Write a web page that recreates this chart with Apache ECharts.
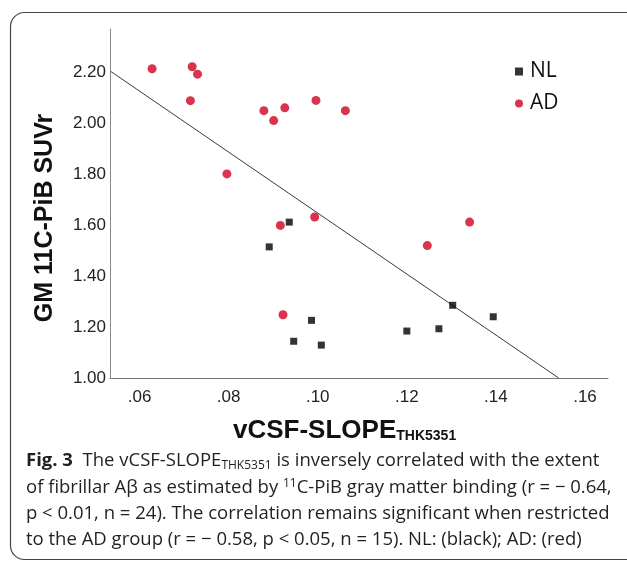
<!DOCTYPE html>
<html>
<head>
<meta charset="utf-8">
<script src="https://cdn.jsdelivr.net/npm/echarts@6/dist/echarts.min.js"></script>
<style>
  html, body { margin: 0; padding: 0; background: #fff; }
  #chart { width: 627px; height: 563px; }
</style>
</head>
<body>
<div id="chart"></div>
<script>
// NL group (black squares)
var nlX = [0.0936, 0.0891, 0.0946, 0.0986, 0.1008, 0.1200, 0.1272, 0.1303, 0.1394];
var nlY = [1.611, 1.514, 1.144, 1.226, 1.129, 1.184, 1.193, 1.285, 1.240];
// AD group (red dots)
var adX = [0.0628, 0.0718, 0.0730, 0.0714, 0.0879, 0.0901, 0.0926, 0.0996, 0.1062, 0.0796, 0.0916, 0.0993, 0.1341, 0.1246, 0.0922];
var adY = [2.212, 2.220, 2.191, 2.087, 2.048, 2.009, 2.059, 2.088, 2.048, 1.800, 1.598, 1.631, 1.611, 1.519, 1.248];
// fitted line, all subjects
var fitX = [0.0535, 0.1541];
var fitY = [2.202, 1.00];
var xTicks = [0.06, 0.08, 0.10, 0.12, 0.14, 0.16];
var yTicks = [1.00, 1.20, 1.40, 1.60, 1.80, 2.00, 2.20];

function pairs(xs, ys) {
    return xs.map(function (x, i) { return [x, ys[i]]; });
}

var chartDom = document.getElementById('chart');
var myChart = echarts.init(chartDom);
var capFont = '"Open Sans", "Noto Sans", sans-serif';
var capRich = {
    b: { fontFamily: capFont, fontWeight: 'bold', fontSize: 18.5, fill: '#231f20' },
    s: { fontFamily: capFont, fontSize: 12, fill: '#231f20', verticalAlign: 'bottom', padding: [9, 0, 0, 0] },
    u: { fontFamily: capFont, fontSize: 12, fill: '#231f20', padding: [0, 0, 8, 0] }
};

var option = {
    animation: false,
    grid: { left: 110, right: 19, top: 29, bottom: 185 },
    legend: {
        orient: 'vertical',
        left: 510,
        top: 55,
        itemWidth: 8,
        itemHeight: 8,
        itemGap: 9,
        data: [{ name: 'NL', icon: 'rect' }, { name: 'AD', icon: 'circle' }],
        textStyle: {
            fontFamily: capFont,
            fontSize: 21,
            lineHeight: 23,
            color: '#111',
            padding: [0, 0, 0, 2]
        }
    },
    xAxis: {
        type: 'value',
        min: 0.05335,
        max: 0.16517,
        splitLine: { show: false },
        axisTick: { show: false },
        axisLine: { lineStyle: { color: '#777', width: 1 } },
        axisLabel: {
            customValues: xTicks,
            margin: 11,
            fontFamily: 'Liberation Sans, Arial, sans-serif',
            fontSize: 17,
            color: '#222',
            formatter: function (v) { return v.toFixed(2).slice(1); }
        }
    },
    yAxis: {
        type: 'value',
        min: 1.0,
        max: 2.368,
        splitLine: { show: false },
        axisTick: { show: false },
        axisLine: { show: true, lineStyle: { color: '#888', width: 1 } },
        axisLabel: {
            customValues: yTicks,
            margin: 4,
            fontFamily: 'Liberation Sans, Arial, sans-serif',
            fontSize: 17,
            color: '#222',
            formatter: function (v) { return v.toFixed(2); }
        }
    },
    graphic: [
        {
            type: 'rect',
            z: -10,
            shape: { x: 10.5, y: 12.5, width: 700, height: 547, r: 14 },
            style: { fill: 'none', stroke: '#444', lineWidth: 1.2 }
        },
        {
            type: 'text',
            x: 45,
            y: 218,
            rotation: Math.PI / 2,
            style: {
                text: 'GM 11C-PiB SUVr',
                font: 'bold 25px "Liberation Sans", Arial, sans-serif',
                fill: '#111',
                textAlign: 'center',
                textVerticalAlign: 'middle'
            }
        },
        {
            type: 'text',
            x: 233,
            y: 431,
            style: {
                text: '{m|vCSF-SLOPE}{t|THK5351}',
                textVerticalAlign: 'middle',
                rich: {
                    m: { font: 'bold 26px "Liberation Sans", Arial, sans-serif', fill: '#111', verticalAlign: 'bottom' },
                    t: { font: 'bold 14px "Liberation Sans", Arial, sans-serif', fill: '#111', verticalAlign: 'bottom', padding: [0, 0, 1, 0] }
                }
            }
        },
        {
            type: 'text', x: 26, y: 461,
            style: {
                text: '{b|Fig. 3}  The vCSF-SLOPE{s|THK5351} is inversely correlated with the extent',
                font: '18.5px ' + capFont, fill: '#231f20', textVerticalAlign: 'middle', rich: capRich
            }
        },
        {
            type: 'text', x: 26, y: 488,
            style: {
                text: 'of fibrillar A\u03b2 as estimated by {u|11}C-PiB gray matter binding (r = \u2212 0.64,',
                font: '18.5px ' + capFont, fill: '#231f20', textVerticalAlign: 'middle', rich: capRich
            }
        },
        {
            type: 'text', x: 26, y: 514,
            style: {
                text: 'p < 0.01, n = 24). The correlation remains significant when restricted',
                font: '18.5px ' + capFont, fill: '#231f20', textVerticalAlign: 'middle'
            }
        },
        {
            type: 'text', x: 26, y: 540,
            style: {
                text: 'to the AD group (r = \u2212 0.58, p < 0.05, n = 15). NL: (black); AD: (red)',
                font: '18.5px ' + capFont, fill: '#231f20', textVerticalAlign: 'middle'
            }
        }
    ],
    series: [
        {
            name: 'Fit',
            type: 'line',
            data: pairs(fitX, fitY),
            showSymbol: false,
            silent: true,
            lineStyle: { color: '#3a3a3a', width: 1 },
            z: 1
        },
        {
            name: 'NL',
            type: 'scatter',
            symbol: 'rect',
            symbolSize: 7,
            itemStyle: { color: '#000' },
            data: pairs(nlX, nlY),
            z: 3
        },
        {
            name: 'AD',
            type: 'scatter',
            symbol: 'circle',
            symbolSize: 9,
            itemStyle: { color: '#cf0020' },
            data: pairs(adX, adY),
            z: 3
        }
    ]
};
option && myChart.setOption(option);
</script>
</body>
</html>
